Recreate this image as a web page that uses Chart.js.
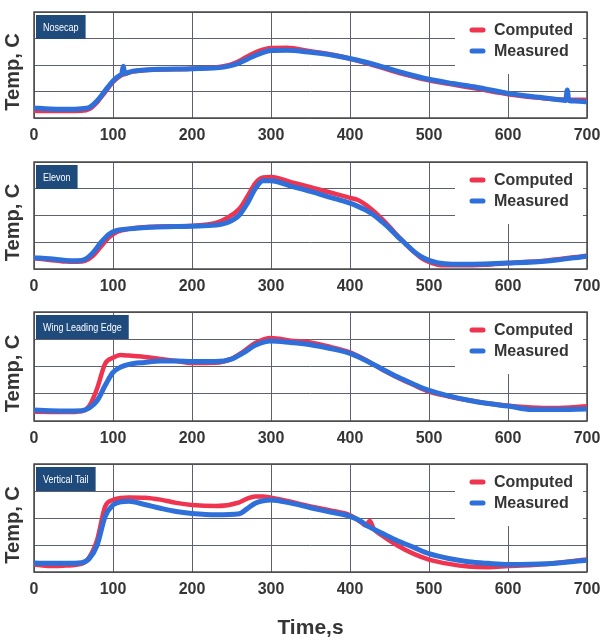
<!DOCTYPE html>
<html>
<head>
<meta charset="utf-8">
<title>Temperature history</title>
<script src="https://cdn.jsdelivr.net/npm/chart.js@4.4.1/dist/chart.umd.min.js"></script>
<style>
  html, body { margin: 0; padding: 0; background: #fff; }
  body { width: 603px; height: 643px; position: relative; overflow: hidden; }
  .panel { position: absolute; left: 0; width: 603px; }
  .panel canvas { display: block; }
</style>
</head>
<body>
<div class="panel" id="panel0"><canvas id="chart0"></canvas></div>
<div class="panel" id="panel1"><canvas id="chart1"></canvas></div>
<div class="panel" id="panel2"><canvas id="chart2"></canvas></div>
<div class="panel" id="panel3"><canvas id="chart3"></canvas></div>
<script>
// Series labels and axis ticks
const seriesNames = ['Computed', 'Measured'];
const timeTicks = [0, 100, 200, 300, 400, 500, 600, 700];

// Nosecap
const nosecapTime     = [0, 20, 40, 60, 70, 80, 90, 100, 108, 111, 113, 115, 125, 140, 160, 200, 240, 255, 270, 285, 300, 320, 350, 380, 410, 440, 470, 500, 530, 560, 600, 640, 670, 673, 675, 677, 685, 700];
const nosecapComputed = [0.27, 0.26, 0.26, 0.27, 0.34, 0.60, 0.98, 1.36, 1.56, 1.62, 1.64, 1.66, 1.75, 1.80, 1.83, 1.86, 1.95, 2.08, 2.32, 2.53, 2.64, 2.65, 2.52, 2.38, 2.16, 1.90, 1.64, 1.42, 1.26, 1.11, 0.90, 0.76, 0.70, 0.70, 0.69, 0.69, 0.69, 0.68];
const nosecapMeasured = [0.38, 0.34, 0.33, 0.35, 0.40, 0.65, 1.03, 1.40, 1.60, 1.66, 1.95, 1.69, 1.77, 1.81, 1.84, 1.86, 1.92, 2.02, 2.22, 2.42, 2.55, 2.56, 2.48, 2.36, 2.18, 1.94, 1.68, 1.46, 1.30, 1.16, 0.93, 0.78, 0.67, 0.66, 1.06, 0.66, 0.64, 0.61];

// Elevon
const elevonTime     = [0, 20, 40, 55, 65, 75, 85, 95, 105, 120, 150, 200, 230, 245, 260, 270, 280, 290, 300, 325, 350, 375, 400, 410, 420, 430, 440, 450, 460, 470, 480, 490, 500, 510, 520, 540, 570, 600, 650, 700];
const elevonComputed = [0.40, 0.34, 0.28, 0.27, 0.31, 0.50, 0.85, 1.18, 1.38, 1.50, 1.58, 1.62, 1.72, 1.92, 2.25, 2.70, 3.20, 3.42, 3.44, 3.25, 3.06, 2.86, 2.66, 2.58, 2.40, 2.16, 1.88, 1.58, 1.25, 0.95, 0.66, 0.42, 0.26, 0.17, 0.14, 0.14, 0.16, 0.22, 0.32, 0.50];
const elevonMeasured = [0.42, 0.38, 0.32, 0.31, 0.37, 0.62, 1.00, 1.30, 1.44, 1.50, 1.56, 1.60, 1.64, 1.74, 2.02, 2.45, 3.00, 3.30, 3.30, 3.10, 2.90, 2.68, 2.46, 2.34, 2.20, 2.02, 1.78, 1.52, 1.22, 0.95, 0.68, 0.46, 0.32, 0.24, 0.20, 0.18, 0.19, 0.22, 0.30, 0.48];

// Wing leading edge
const wingTime     = [0, 20, 40, 60, 70, 80, 90, 100, 110, 120, 140, 160, 180, 200, 230, 250, 265, 280, 300, 325, 350, 375, 400, 420, 440, 460, 480, 500, 525, 550, 575, 600, 630, 660, 700];
const wingComputed = [0.34, 0.33, 0.33, 0.36, 0.55, 1.20, 2.10, 2.32, 2.42, 2.40, 2.35, 2.28, 2.20, 2.13, 2.14, 2.28, 2.55, 2.86, 3.05, 2.95, 2.88, 2.72, 2.52, 2.24, 1.90, 1.60, 1.33, 1.08, 0.90, 0.76, 0.64, 0.56, 0.50, 0.48, 0.54];
const wingMeasured = [0.40, 0.38, 0.37, 0.38, 0.48, 0.75, 1.30, 1.78, 1.98, 2.08, 2.15, 2.20, 2.20, 2.18, 2.18, 2.27, 2.50, 2.78, 2.94, 2.88, 2.80, 2.66, 2.48, 2.22, 1.92, 1.62, 1.36, 1.12, 0.92, 0.76, 0.64, 0.55, 0.42, 0.42, 0.44];

// Vertical tail
const tailTime     = [0, 20, 40, 60, 70, 80, 90, 100, 110, 120, 140, 160, 180, 200, 230, 260, 270, 280, 290, 300, 325, 350, 375, 400, 415, 420, 425, 430, 440, 460, 480, 500, 525, 550, 575, 600, 650, 700];
const tailComputed = [0.28, 0.22, 0.24, 0.30, 0.55, 1.20, 2.42, 2.67, 2.74, 2.76, 2.75, 2.68, 2.56, 2.48, 2.44, 2.58, 2.72, 2.80, 2.80, 2.75, 2.60, 2.43, 2.28, 2.10, 1.82, 1.72, 1.90, 1.60, 1.36, 0.98, 0.68, 0.46, 0.30, 0.20, 0.18, 0.22, 0.30, 0.46];
const tailMeasured = [0.33, 0.32, 0.32, 0.34, 0.50, 1.00, 2.05, 2.48, 2.60, 2.62, 2.50, 2.36, 2.24, 2.17, 2.12, 2.16, 2.35, 2.55, 2.64, 2.67, 2.55, 2.38, 2.22, 2.06, 1.86, 1.74, 1.66, 1.58, 1.44, 1.16, 0.92, 0.68, 0.50, 0.38, 0.32, 0.28, 0.31, 0.44];

const panels = [
  { name: 'Nosecap',           time: nosecapTime, computed: nosecapComputed, measured: nosecapMeasured },
  { name: 'Elevon',            time: elevonTime,  computed: elevonComputed,  measured: elevonMeasured },
  { name: 'Wing Leading Edge', time: wingTime,    computed: wingComputed,    measured: wingMeasured },
  { name: 'Vertical Tail',     time: tailTime,    computed: tailComputed,    measured: tailMeasured }
];

// page placement of each panel: top of the div, plot height, div height
const layoutBoxes = [
  { top: 0,   plotH: 106, height: 150 },
  { top: 150, plotH: 107, height: 150 },
  { top: 300, plotH: 109, height: 150 },
  { top: 452, plotH: 108, height: 191 }
];

const PLOT_LEFT = 34;
const PLOT_RIGHT = 587;

const COMPUTED_COLOR = '#ef3450';
const MEASURED_COLOR = '#2f6fda';
const TEXT_COLOR = '#353535';
const GRID_COLOR = '#5c6070';
const FRAME_COLOR = '#4a4a4a';
const TAG_COLOR = '#1f4a7c';

Chart.defaults.font.family = '"Liberation Sans", Arial, sans-serif';

// Frame, white legend box, name tag, legend and y label drawn around the plot
const panelDecor = {
  id: 'panelDecor',
  beforeDatasetsDraw(chart, args, opts) {
    const { ctx, chartArea: a } = chart;
    ctx.save();
    ctx.fillStyle = '#fff';
    ctx.fillRect(a.right - 132, a.top + 1, 128, 61);
    ctx.strokeStyle = FRAME_COLOR;
    ctx.lineWidth = 1.5;
    ctx.strokeRect(a.left, a.top, a.right - a.left, a.bottom - a.top);
    ctx.restore();
  },
  afterDatasetsDraw(chart, args, opts) {
    const { ctx, chartArea: a } = chart;
    ctx.save();

    // name tag in the top left corner, text squeezed to a narrow face
    const squeeze = 0.82;
    ctx.font = '11px "Liberation Sans", Arial, sans-serif';
    const tw = ctx.measureText(opts.name).width * squeeze;
    ctx.fillStyle = TAG_COLOR;
    ctx.fillRect(a.left + 2, a.top + 3, tw + 14, 24);
    ctx.save();
    ctx.translate(a.left + 9, a.top + 15.5);
    ctx.scale(squeeze, 1);
    ctx.fillStyle = '#fff';
    ctx.textBaseline = 'middle';
    ctx.textAlign = 'left';
    ctx.fillText(opts.name, 0, 0);
    ctx.restore();

    // legend
    ctx.textBaseline = 'middle';
    ctx.textAlign = 'left';
    ctx.font = 'bold 16px "Liberation Sans", Arial, sans-serif';
    ctx.lineCap = 'round';
    chart.data.datasets.forEach((ds, i) => {
      const y = a.top + 18 + i * 21;
      ctx.strokeStyle = ds.borderColor;
      ctx.lineWidth = 5;
      ctx.beginPath();
      ctx.moveTo(a.right - 115, y);
      ctx.lineTo(a.right - 104, y);
      ctx.stroke();
      ctx.fillStyle = TEXT_COLOR;
      ctx.fillText(ds.label, a.right - 93, y + 1);
    });

    // y axis label
    ctx.translate(13, (a.top + a.bottom) / 2 + 7);
    ctx.rotate(-Math.PI / 2);
    ctx.textAlign = 'center';
    ctx.font = 'bold 20px "Liberation Sans", Arial, sans-serif';
    ctx.fillStyle = TEXT_COLOR;
    ctx.fillText('Temp, C', 0, 0);
    ctx.restore();
  }
};

function buildChart(index) {
  const p = panels[index];
  const box = layoutBoxes[index];
  const isLast = index === panels.length - 1;

  const holder = document.getElementById('panel' + index);
  holder.style.top = box.top + 'px';
  holder.style.height = box.height + 'px';

  const canvas = document.getElementById('chart' + index);
  canvas.width = 603;
  canvas.height = box.height;

  const xAxisHeight = box.height - 12 - box.plotH;

  return new Chart(canvas.getContext('2d'), {
    type: 'line',
    data: {
      datasets: [
        {
          label: seriesNames[0],
          data: p.time.map((t, i) => ({ x: t, y: p.computed[i] })),
          borderColor: COMPUTED_COLOR,
          borderWidth: 4.5,
          order: 1
        },
        {
          label: seriesNames[1],
          data: p.time.map((t, i) => ({ x: t, y: p.measured[i] })),
          borderColor: MEASURED_COLOR,
          borderWidth: 5,
          order: 0
        }
      ]
    },
    options: {
      responsive: false,
      animation: false,
      events: [],
      layout: { padding: { top: 12, right: 603 - PLOT_RIGHT, left: 0, bottom: 0 } },
      elements: {
        point: { radius: 0 },
        line: { cubicInterpolationMode: 'monotone', borderCapStyle: 'round', borderJoinStyle: 'round' }
      },
      plugins: {
        legend: { display: false },
        tooltip: { enabled: false },
        panelDecor: { name: p.name }
      },
      scales: {
        x: {
          type: 'linear',
          min: 0,
          max: 700,
          afterBuildTicks(scale) { scale.ticks = timeTicks.map(v => ({ value: v })); },
          afterFit(scale) {
            scale.height = xAxisHeight;
            scale.paddingLeft = 0;
            scale.paddingRight = 0;
          },
          ticks: {
            color: TEXT_COLOR,
            font: { size: 16, weight: 'bold' },
            padding: 8,
            maxRotation: 0,
            autoSkip: false
          },
          grid: { color: GRID_COLOR, lineWidth: 1, drawTicks: false },
          border: { display: false },
          title: {
            display: isLast,
            text: 'Time,s',
            color: TEXT_COLOR,
            font: { size: 21, weight: 'bold' },
            padding: { top: 0, bottom: 2 }
          }
        },
        y: {
          min: 0,
          max: 4,
          afterFit(scale) { scale.width = PLOT_LEFT; },
          ticks: { display: false, stepSize: 1 },
          grid: { color: GRID_COLOR, lineWidth: 1, drawTicks: false },
          border: { display: false }
        }
      }
    },
    plugins: [panelDecor]
  });
}

panels.forEach((p, i) => buildChart(i));
</script>
</body>
</html>
